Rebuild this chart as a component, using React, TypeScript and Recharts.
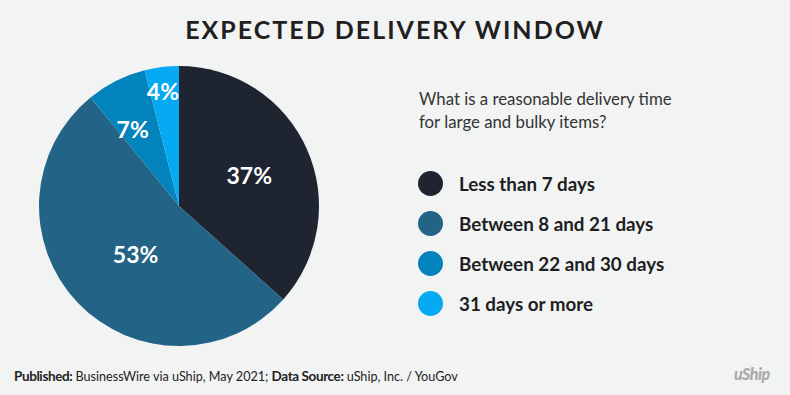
import { PieChart, Pie, Cell, Legend } from "recharts";

const categories = ["Less than 7 days", "Between 8 and 21 days", "Between 22 and 30 days", "31 days or more"];
const shares = [37, 53, 7, 4];
const sliceColors = ["#1e2430", "#236386", "#0383bb", "#05aaf2"];

// label placement per slice: [radius factor, angle shift in degrees]
const labelPlacement: [number, number][] = [
  [0.55, 0],
  [0.46, 4],
  [0.64, 4.4],
  [0.83, 0.8],
];

const data = categories.map((name, i) => ({ name, value: shares[i] }));

const BG = "#f2f3f3";
const RAD = Math.PI / 180;

function SliceLabel(props: any) {
  const { cx, cy, midAngle, outerRadius, index, value } = props;
  const [f, shift] = labelPlacement[index] ?? [0.6, 0];
  const a = (midAngle + shift) * RAD;
  const r = outerRadius * f;
  const x = cx + r * Math.cos(a);
  const y = cy - r * Math.sin(a);
  return (
    <text
      x={x}
      y={y}
      fill="#ffffff"
      textAnchor="middle"
      dominantBaseline="central"
      style={{ fontFamily: "Lato", fontWeight: 700, fontSize: 23 }}
    >
      {value}%
    </text>
  );
}

function LegendList() {
  return (
    <div style={{ fontFamily: "Lato", color: "#1e1e22" }}>
      {categories.map((name, i) => (
        <div key={name} style={{ display: "flex", alignItems: "center", height: 40 }}>
          <span
            style={{
              width: 25,
              height: 25,
              borderRadius: "50%",
              background: sliceColors[i],
              display: "inline-block",
              marginRight: 16,
            }}
          />
          <span style={{ fontSize: 18.8, fontWeight: 700 }}>{name}</span>
        </div>
      ))}
    </div>
  );
}

const boldNote = { fontWeight: 700, fontSize: 13.5, letterSpacing: -0.4 };

export default function App() {
  return (
    <div
      style={{
        position: "absolute",
        left: 0,
        top: 0,
        width: 790,
        height: 395,
        background: BG,
        overflow: "hidden",
        fontFamily: "Lato",
      }}
    >
      <div
        style={{
          position: "absolute",
          top: 14,
          left: 0,
          width: 790,
          textAlign: "center",
          fontSize: 25,
          fontWeight: 700,
          letterSpacing: 2,
          color: "#231f20",
        }}
      >
        EXPECTED DELIVERY WINDOW
      </div>
      <div
        style={{
          position: "absolute",
          left: 419,
          top: 87,
          fontSize: 16.8,
          lineHeight: "23px",
          color: "#333333",
        }}
      >
        What is a reasonable delivery time
        <br />
        for large and bulky items?
      </div>
      <PieChart
        width={790}
        height={395}
        margin={{ top: 0, right: 0, bottom: 0, left: 0 }}
        style={{ position: "absolute", left: 0, top: 0 }}
      >
        <Pie
          data={data}
          dataKey="value"
          nameKey="name"
          cx={179}
          cy={206}
          outerRadius={140}
          startAngle={90}
          endAngle={-270}
          stroke="none"
          labelLine={false}
          label={SliceLabel}
          isAnimationActive={false}
        >
          {data.map((d, i) => (
            <Cell key={d.name} fill={sliceColors[i]} />
          ))}
        </Pie>
        <Legend
          layout="vertical"
          content={LegendList}
          wrapperStyle={{ position: "absolute", left: 418, top: 163, width: 340 }}
        />
      </PieChart>
      <div
        style={{
          position: "absolute",
          left: 14,
          top: 368,
          fontSize: 12.6,
          color: "#222222",
          whiteSpace: "nowrap",
        }}
      >
        <span style={boldNote}>Published:</span> BusinessWire via uShip, May 2021;{" "}
        <span style={boldNote}>Data Source:</span> uShip, Inc. / YouGov
      </div>
      <div
        style={{
          position: "absolute",
          left: 734,
          top: 364,
          fontSize: 16,
          fontWeight: 900,
          fontStyle: "italic",
          color: "#a9abab",
          letterSpacing: -0.5,
        }}
      >
        uShip
      </div>
    </div>
  );
}
